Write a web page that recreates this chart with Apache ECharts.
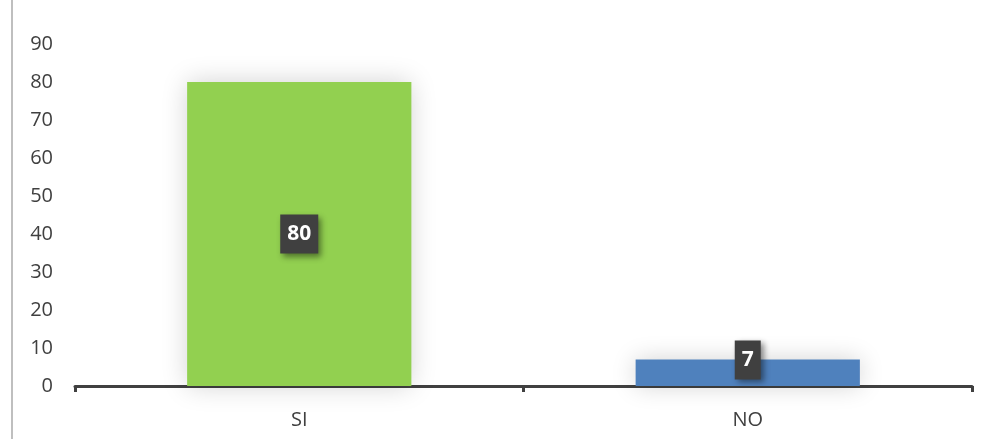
<!DOCTYPE html>
<html><head><meta charset="utf-8">
<script src="https://cdn.jsdelivr.net/npm/echarts@6/dist/echarts.min.js"></script>
<style>html,body{margin:0;padding:0;background:#fff}#c{width:984px;height:439px}</style>
</head><body><div id="c"></div>
<script>
const categories = ['SI', 'NO'];
const values = [80, 7];
const colors = ['#92D050', '#4F81BD'];
const yTicks = {min: 0, max: 90, interval: 10};

const chart = echarts.init(document.getElementById('c'));
const labelBase = {
  show: true, color: '#fff', fontWeight: 'bold', fontSize: 21,
  fontFamily: 'Open Sans', backgroundColor: '#404040',
  padding: [7, 7, 6, 7], lineHeight: 26,
  shadowColor: 'rgba(0,0,0,0.45)', shadowBlur: 6, shadowOffsetX: 3, shadowOffsetY: 3
};
chart.setOption({
  animation: false,
  grid: {left: 75, right: 12, top: 44, bottom: 53},
  graphic: [{type: 'line', shape: {x1: 12, y1: 0, x2: 12, y2: 439}, style: {stroke: '#bfbfbf', lineWidth: 2}}],
  xAxis: {
    type: 'category', data: categories,
    axisLine: {lineStyle: {color: '#404040', width: 3}},
    axisTick: {show: true, length: 6, lineStyle: {color: '#404040', width: 3}},
    axisLabel: {color: '#404040', fontSize: 20, fontFamily: 'Open Sans', margin: 24}
  },
  yAxis: {
    type: 'value', min: yTicks.min, max: yTicks.max, interval: yTicks.interval,
    axisLine: {show: false}, axisTick: {show: false}, splitLine: {show: false},
    axisLabel: {color: '#404040', fontSize: 20, fontFamily: 'Open Sans', margin: 22}
  },
  series: [{
    type: 'bar', barWidth: '50%',
    data: values.map((v, i) => ({
      value: v,
      itemStyle: {color: colors[i], shadowColor: 'rgba(0,0,0,0.18)', shadowBlur: 25},
      label: i === 0 ? Object.assign({}, labelBase, {position: 'inside'})
                     : Object.assign({}, labelBase, {position: 'top', distance: -20})
    }))
  }]
});
</script></body></html>
